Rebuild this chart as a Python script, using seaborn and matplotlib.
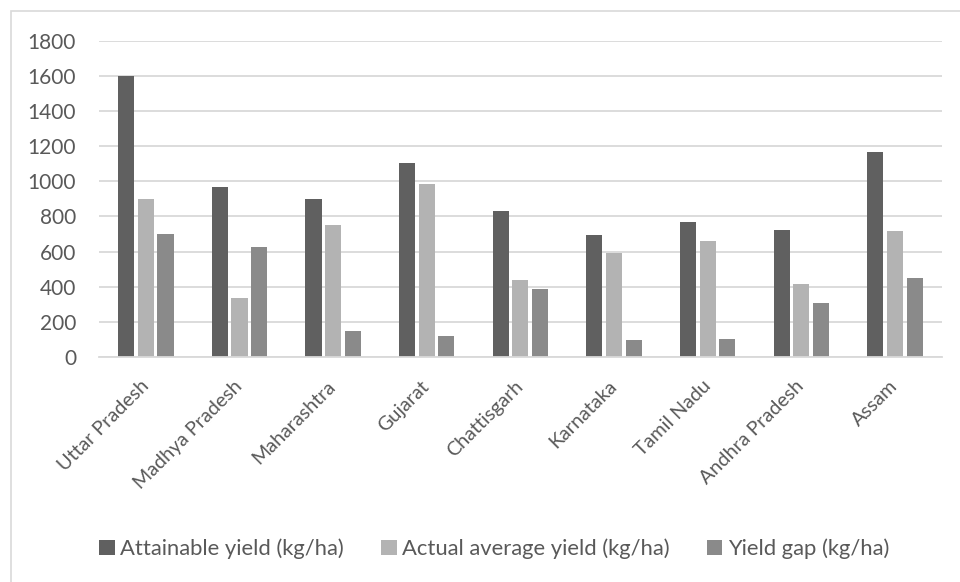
import numpy as np
import pandas as pd
import seaborn as sns
import matplotlib.pyplot as plt
from matplotlib.patches import Rectangle

# 数据
states = ['Uttar Pradesh', 'Madhya Pradesh', 'Maharashtra', 'Gujarat', 'Chattisgarh',
          'Karnataka', 'Tamil Nadu', 'Andhra Pradesh', 'Assam']
attainable = [1600, 965, 900, 1105, 828, 692, 768, 720, 1168]
actual = [898, 335, 750, 985, 438, 593, 660, 413, 717]
gap_vals = [698, 627, 147, 120, 387, 96, 104, 305, 450]
series_names = ['Attainable yield (kg/ha)', 'Actual average yield (kg/ha)', 'Yield gap (kg/ha)']
colors = ['#606060', '#b3b3b3', '#8a8a8a']

df = pd.DataFrame({
    'State': states * 3,
    'Series': [series_names[0]] * 9 + [series_names[1]] * 9 + [series_names[2]] * 9,
    'Value': attainable + actual + gap_vals,
})

sns.set_style('white')
plt.rcParams['font.family'] = ['Lato', 'DejaVu Sans']
text_color = '#595959'

fig = plt.figure(figsize=(9.6, 5.82), dpi=100)
ax = fig.add_axes([0.1031, 0.3866, 0.878, 0.5435])

sns.barplot(data=df, x='State', y='Value', hue='Series', palette=colors,
            width=0.63, gap=0.18, ax=ax, edgecolor='none', legend=True)

ax.set_ylim(0, 1800)
ax.set_yticks(np.arange(0, 1801, 200))
ax.yaxis.grid(True, color='#d9d9d9', linewidth=1.3)
ax.set_axisbelow(True)
for s in ['top', 'right', 'left']:
    ax.spines[s].set_visible(False)
ax.spines['bottom'].set_color('#d9d9d9')
ax.spines['bottom'].set_linewidth(1.3)
ax.set_xlim(-0.5, 8.5)
ax.set_xlabel('')
ax.set_ylabel('')
ax.tick_params(axis='y', length=0, colors=text_color, labelsize=15, pad=16.5)
ax.tick_params(axis='x', length=0, colors=text_color, labelsize=14.2, pad=19)
plt.setp(ax.get_xticklabels(), rotation=45, ha='right', va='center', rotation_mode='anchor')

# 图例放在底部
handles, labels = ax.get_legend_handles_labels()
ax.legend_.remove()
fig.legend(handles, labels, loc='center', bbox_to_anchor=(0.515, 0.057), ncol=3,
           frameon=False, fontsize=15.8, handlelength=0.7, handleheight=0.7,
           handletextpad=0.25, columnspacing=1.7, labelcolor=text_color)

# 图表边框
fig.patches.append(Rectangle((11 / 960, -0.01), 1.1, 1 - 11 / 582 + 0.01, transform=fig.transFigure,
                             fill=False, edgecolor='#d9d9d9', linewidth=1.2))

fig.savefig('out.png', dpi=100)
